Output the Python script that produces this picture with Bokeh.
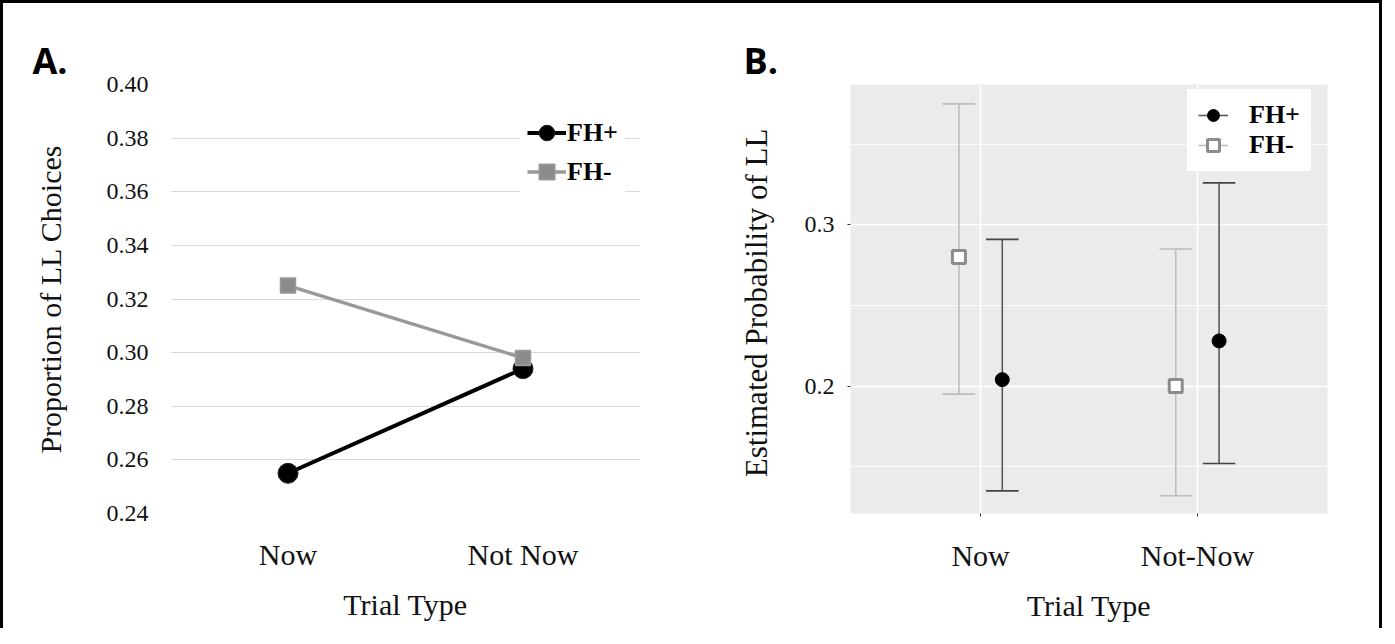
from bokeh.plotting import figure
from bokeh.layouts import row
from bokeh.models import (ColumnDataSource, FactorRange, Range1d, FixedTicker,
                          Legend, LegendItem, PrintfTickFormatter)
from bokeh.transform import dodge
from bokeh.embed import file_html
from bokeh.resources import INLINE

# ---------------- Panel A data ----------------
a_categories = ["Now", "Not Now"]
a_fh_plus = [0.255, 0.294]
a_fh_minus = [0.325, 0.298]
a_y_ticks = [0.24, 0.26, 0.28, 0.30, 0.32, 0.34, 0.36, 0.38, 0.40]

# ---------------- Panel B data ----------------
b_categories = ["Now", "Not-Now"]
b_fh_plus = [0.204, 0.228]
b_fh_plus_lower = [0.135, 0.152]
b_fh_plus_upper = [0.291, 0.326]
b_fh_minus = [0.280, 0.200]
b_fh_minus_lower = [0.195, 0.132]
b_fh_minus_upper = [0.375, 0.285]
b_major_ticks = [0.2, 0.3]
b_minor_ticks = [0.15, 0.25, 0.35]

SERIF = "Liberation Serif"


def style_title(p, text, offset):
    p.title.text = text
    p.title.align = "left"
    p.title.offset = offset
    p.title.standoff = 0
    p.title.text_line_height = 0.55
    p.title.text_font = "Open Sans"
    p.title.text_font_style = "bold"
    p.title.text_font_size = "36px"
    p.title.text_color = "black"


# ================= Panel A =================
pa = figure(width=689, height=625, x_range=FactorRange(*a_categories),
            y_range=Range1d(0.24, 0.40), output_backend="svg", toolbar_location=None,
            min_border_left=167, min_border_right=52, min_border_top=81, min_border_bottom=114)
pa.outline_line_color = None
pa.background_fill_color = "white"
pa.border_fill_color = "white"
pa.xgrid.grid_line_color = None
pa.ygrid.grid_line_color = "#d9d9d9"
pa.ygrid.grid_line_width = 1
style_title(pa, "A.", -138)

pa.yaxis.ticker = FixedTicker(ticks=a_y_ticks)
pa.yaxis.formatter = PrintfTickFormatter(format="%.2f")
for ax in (pa.xaxis[0], pa.yaxis[0]):
    ax.axis_line_color = None
    ax.major_tick_out = 0
    ax.major_tick_in = 0
    ax.minor_tick_out = 0
    ax.minor_tick_in = 0
    ax.major_label_text_font = SERIF
    ax.axis_label_text_font = SERIF
    ax.axis_label_text_font_style = "normal"
    ax.major_label_text_color = "#111111"
    ax.axis_label_text_color = "#111111"
    ax.axis_label_text_font_size = "30px"
pa.yaxis.major_label_text_font_size = "24px"
pa.xaxis.major_label_text_font_size = "30px"
pa.yaxis.axis_label = "Proportion of LL Choices"
pa.xaxis.axis_label = "Trial Type"
pa.yaxis.major_label_standoff = 22
pa.yaxis.axis_label_standoff = 37
pa.xaxis.major_label_standoff = 24
pa.xaxis.axis_label_standoff = 14

src_a = ColumnDataSource(dict(cat=a_categories, plus=a_fh_plus, minus=a_fh_minus))
la1 = pa.line("cat", "plus", source=src_a, line_color="black", line_width=4)
sa1 = pa.scatter("cat", "plus", source=src_a, marker="circle", size=20,
                 fill_color="black", line_color="#222222", line_width=1)
la2 = pa.line("cat", "minus", source=src_a, line_color="#999999", line_width=3.5)
sa2 = pa.scatter("cat", "minus", source=src_a, marker="square", size=15,
                 fill_color="#8c8c8c", line_color="#9a9a9a", line_width=1.5)

leg_a = Legend(items=[LegendItem(label="FH+", renderers=[la1, sa1]),
                      LegendItem(label="FH-", renderers=[la2, sa2])],
               location=(350, 315), orientation="vertical",
               glyph_width=39, glyph_height=39, label_standoff=1, spacing=0,
               padding=6, margin=0, border_line_color="white", border_line_width=1,
               background_fill_color="white", background_fill_alpha=1,
               label_text_font=SERIF, label_text_font_style="bold",
               label_text_font_size="26px", label_text_color="black")
pa.add_layout(leg_a)

# ================= Panel B =================
pb = figure(width=687, height=625,
            x_range=FactorRange(*b_categories, range_padding=0.1, range_padding_units="absolute"),
            y_range=Range1d(0.121, 0.387), output_backend="svg", toolbar_location=None,
            min_border_left=158, min_border_right=52, min_border_top=81, min_border_bottom=115)
pb.outline_line_color = None
pb.background_fill_color = "#EBEBEB"
pb.border_fill_color = "white"
style_title(pb, "B.", -107)
pb.yaxis.ticker = FixedTicker(ticks=b_major_ticks, minor_ticks=b_minor_ticks)
pb.yaxis.formatter = PrintfTickFormatter(format="%.1f")
pb.xgrid.grid_line_color = "white"
pb.xgrid.grid_line_width = 1.6
pb.ygrid.grid_line_color = "white"
pb.ygrid.grid_line_width = 1.6
pb.ygrid.minor_grid_line_color = "white"
pb.ygrid.minor_grid_line_width = 0.8
for ax in (pb.xaxis[0], pb.yaxis[0]):
    ax.axis_line_color = None
    ax.major_tick_out = 3
    ax.major_tick_in = 0
    ax.major_tick_line_color = "#333333"
    ax.major_tick_line_width = 1
    ax.minor_tick_out = 0
    ax.minor_tick_in = 0
    ax.major_label_text_font = SERIF
    ax.axis_label_text_font = SERIF
    ax.axis_label_text_font_style = "normal"
    ax.major_label_text_color = "#111111"
    ax.axis_label_text_color = "#111111"
    ax.axis_label_text_font_size = "30px"
pb.yaxis.major_label_text_font_size = "24px"
pb.xaxis.major_label_text_font_size = "30px"
pb.yaxis.axis_label_text_font_size = "31px"
pb.yaxis.axis_label = "Estimated Probability of  LL"
pb.xaxis.axis_label = "Trial Type"
pb.yaxis.major_label_standoff = 13
pb.yaxis.axis_label_standoff = 28
pb.xaxis.major_label_standoff = 22
pb.xaxis.axis_label_standoff = 14

src_b = ColumnDataSource(dict(cat=b_categories,
                              plus=b_fh_plus, plus_lo=b_fh_plus_lower, plus_hi=b_fh_plus_upper,
                              minus=b_fh_minus, minus_lo=b_fh_minus_lower, minus_hi=b_fh_minus_upper))
DODGE = 0.1
CAP = 0.075
rng = pb.x_range

# FH- (left, light gray)
stem_m = pb.segment(x0=dodge("cat", -DODGE, range=rng), x1=dodge("cat", -DODGE, range=rng),
                    y0="minus_lo", y1="minus_hi", source=src_b, line_color="#BDBDBD", line_width=1.6)
for col in ("minus_lo", "minus_hi"):
    pb.segment(x0=dodge("cat", -DODGE - CAP, range=rng), x1=dodge("cat", -DODGE + CAP, range=rng),
               y0=col, y1=col, source=src_b, line_color="#BDBDBD", line_width=1.6)
pt_m = pb.scatter(x=dodge("cat", -DODGE, range=rng), y="minus", source=src_b, marker="square",
                  size=13, fill_color="white", line_color="#8C8C8C", line_width=3)

# FH+ (right, dark)
stem_p = pb.segment(x0=dodge("cat", DODGE, range=rng), x1=dodge("cat", DODGE, range=rng),
                    y0="plus_lo", y1="plus_hi", source=src_b, line_color="#5a5a5a", line_width=1.6)
for col in ("plus_lo", "plus_hi"):
    pb.segment(x0=dodge("cat", DODGE - CAP, range=rng), x1=dodge("cat", DODGE + CAP, range=rng),
               y0=col, y1=col, source=src_b, line_color="#444444", line_width=1.6)
pt_p = pb.scatter(x=dodge("cat", DODGE, range=rng), y="plus", source=src_b, marker="circle",
                  size=14, fill_color="black", line_color="black", line_width=1)

leg_b = Legend(items=[LegendItem(label="FH+", renderers=[stem_p, pt_p]),
                      LegendItem(label="FH-", renderers=[stem_m, pt_m])],
               location=(337, 342), orientation="vertical",
               glyph_width=30, glyph_height=30, label_standoff=21, spacing=0,
               padding=10, margin=0, border_line_color="white", border_line_width=1,
               background_fill_color="white", background_fill_alpha=1,
               label_text_font=SERIF, label_text_font_style="bold",
               label_text_font_size="26px", label_text_color="black")
pb.add_layout(leg_b)

layout = row(pa, pb, styles={"border-left": "3px solid black",
                             "border-top": "3px solid black",
                             "border-right": "3px solid black"})

open("out.html", "w").write(file_html(layout, INLINE))
